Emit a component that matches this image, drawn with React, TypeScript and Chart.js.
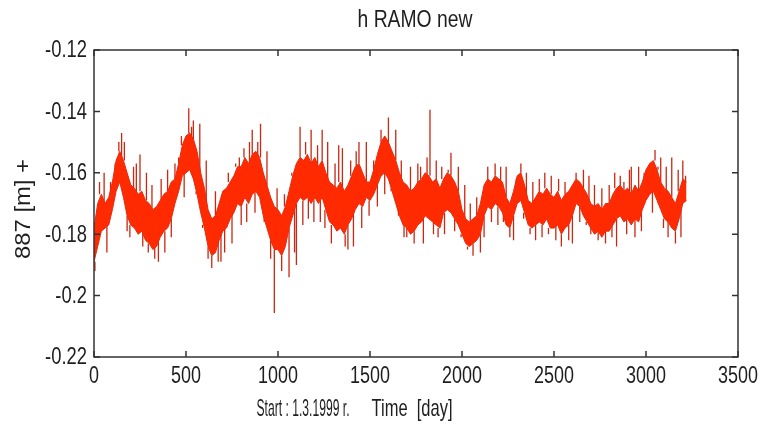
import { useEffect, useRef } from "react";
import { Chart, registerables } from "chart.js";

Chart.register(...registerables);

// Height series h for station RAMO, days since 1.3.1999
const X_TICKS = [0, 500, 1000, 1500, 2000, 2500, 3000, 3500];
const Y_TICKS = [-0.22, -0.2, -0.18, -0.16, -0.14, -0.12];
const STEP_DAYS = 20;

// upper edge of the dense daily scatter, one value every STEP_DAYS
const BAND_HI = [
  -0.178, -0.170, -0.167, -0.170, -0.168,
  -0.163, -0.156, -0.153, -0.156, -0.160,
  -0.164, -0.165, -0.167, -0.166, -0.169,
  -0.170, -0.172, -0.171, -0.169, -0.167,
  -0.166, -0.163, -0.162, -0.157, -0.151,
  -0.148, -0.147, -0.149, -0.153, -0.160,
  -0.165, -0.172, -0.175, -0.174, -0.170,
  -0.166, -0.165, -0.163, -0.161, -0.158,
  -0.158, -0.155, -0.157, -0.154, -0.153,
  -0.155, -0.160, -0.164, -0.168, -0.171,
  -0.172, -0.174, -0.171, -0.166, -0.161,
  -0.157, -0.155, -0.156, -0.154, -0.157,
  -0.155, -0.158, -0.156, -0.160, -0.163,
  -0.164, -0.165, -0.163, -0.166, -0.164,
  -0.161, -0.158, -0.157, -0.160, -0.163,
  -0.163, -0.159, -0.154, -0.150, -0.148,
  -0.150, -0.153, -0.156, -0.160, -0.163,
  -0.164, -0.166, -0.165, -0.163, -0.162,
  -0.160, -0.161, -0.163, -0.162, -0.165,
  -0.162, -0.160, -0.161, -0.163, -0.166,
  -0.172, -0.175, -0.176, -0.175, -0.174,
  -0.170, -0.164, -0.162, -0.163, -0.161,
  -0.162, -0.163, -0.168, -0.170, -0.166,
  -0.161, -0.160, -0.164, -0.169, -0.170,
  -0.168, -0.166, -0.167, -0.165, -0.167,
  -0.168, -0.166, -0.169, -0.167, -0.166,
  -0.164, -0.162, -0.163, -0.165, -0.167,
  -0.170, -0.171, -0.170, -0.172, -0.170,
  -0.170, -0.167, -0.165, -0.164, -0.166,
  -0.165, -0.167, -0.164, -0.166, -0.163,
  -0.159, -0.157, -0.156, -0.159, -0.163,
  -0.165, -0.166, -0.168, -0.170, -0.166,
  -0.162, -0.163,
];

// lower edge of the dense daily scatter, same sampling
const BAND_LO = [
  -0.189, -0.184, -0.179, -0.178, -0.177,
  -0.172, -0.166, -0.163, -0.168, -0.174,
  -0.177, -0.178, -0.180, -0.179, -0.182,
  -0.183, -0.185, -0.184, -0.181, -0.179,
  -0.178, -0.175, -0.170, -0.166, -0.161,
  -0.160, -0.159, -0.162, -0.167, -0.173,
  -0.178, -0.184, -0.187, -0.186, -0.182,
  -0.179, -0.178, -0.175, -0.173, -0.170,
  -0.171, -0.168, -0.170, -0.167, -0.166,
  -0.168, -0.174, -0.178, -0.182, -0.185,
  -0.185, -0.187, -0.184, -0.178, -0.174,
  -0.170, -0.168, -0.169, -0.168, -0.170,
  -0.168, -0.170, -0.168, -0.172, -0.176,
  -0.177, -0.179, -0.178, -0.180, -0.177,
  -0.175, -0.172, -0.170, -0.171, -0.168,
  -0.169, -0.167, -0.164, -0.161, -0.160,
  -0.162, -0.166, -0.170, -0.174, -0.177,
  -0.178, -0.180, -0.179, -0.177, -0.176,
  -0.174, -0.175, -0.176, -0.177, -0.178,
  -0.173, -0.172, -0.173, -0.175, -0.177,
  -0.180, -0.183, -0.184, -0.183, -0.182,
  -0.180, -0.174, -0.171, -0.172, -0.170,
  -0.171, -0.173, -0.177, -0.178, -0.174,
  -0.170, -0.169, -0.173, -0.177, -0.178,
  -0.177, -0.176, -0.177, -0.175, -0.178,
  -0.178, -0.177, -0.180, -0.178, -0.177,
  -0.174, -0.170, -0.171, -0.174, -0.176,
  -0.178, -0.180, -0.179, -0.181, -0.179,
  -0.179, -0.177, -0.175, -0.174, -0.176,
  -0.175, -0.177, -0.175, -0.176, -0.172,
  -0.169, -0.167, -0.166, -0.169, -0.172,
  -0.175, -0.176, -0.178, -0.179, -0.175,
  -0.170, -0.169,
];

// single-day outliers sticking out of the scatter: [day, value]
const SPIKES: [number, number][] = [
  [5, -0.192], [30, -0.163], [55, -0.160], [70, -0.186], [90, -0.163],
  [115, -0.157], [135, -0.150], [150, -0.147], [165, -0.150], [180, -0.179], [195, -0.181],
  [215, -0.158], [230, -0.157], [250, -0.154], [265, -0.184], [285, -0.160], [295, -0.186],
  [315, -0.164], [330, -0.188], [350, -0.189], [365, -0.162], [385, -0.186], [400, -0.159],
  [420, -0.181], [440, -0.157], [460, -0.155], [475, -0.148], [490, -0.168], [500, -0.150],
  [515, -0.139], [530, -0.145], [540, -0.143], [555, -0.166], [575, -0.144], [590, -0.177],
  [610, -0.156], [620, -0.188], [640, -0.191], [660, -0.166], [675, -0.189], [690, -0.189],
  [710, -0.186], [730, -0.160], [750, -0.183], [770, -0.157], [790, -0.155], [800, -0.177],
  [815, -0.152], [830, -0.176], [845, -0.150], [860, -0.146], [875, -0.173], [890, -0.150],
  [905, -0.144], [925, -0.176], [940, -0.153], [960, -0.188], [980, -0.2057], [995, -0.165],
  [1020, -0.192], [1035, -0.167], [1060, -0.194], [1075, -0.160], [1090, -0.186], [1100, -0.190],
  [1120, -0.145], [1135, -0.177], [1150, -0.150], [1165, -0.175], [1180, -0.146], [1195, -0.176],
  [1215, -0.151], [1230, -0.176], [1240, -0.146], [1255, -0.178], [1270, -0.150], [1290, -0.183],
  [1310, -0.157], [1330, -0.151], [1350, -0.152], [1365, -0.184], [1380, -0.185], [1395, -0.156],
  [1410, -0.184], [1425, -0.153], [1440, -0.150], [1455, -0.178], [1480, -0.150], [1495, -0.174],
  [1520, -0.156], [1540, -0.171], [1560, -0.146], [1580, -0.167], [1600, -0.142], [1615, -0.165],
  [1640, -0.146], [1655, -0.172], [1670, -0.156], [1685, -0.181], [1700, -0.181],
  [1720, -0.158], [1740, -0.183], [1760, -0.157], [1775, -0.158], [1790, -0.183],
  [1810, -0.155], [1826, -0.1395], [1845, -0.180], [1860, -0.156], [1870, -0.181], [1890, -0.158],
  [1905, -0.180], [1925, -0.159], [1940, -0.1535], [1960, -0.179], [1980, -0.158], [1995, -0.181],
  [2015, -0.164], [2030, -0.185], [2045, -0.170], [2060, -0.187], [2080, -0.168], [2100, -0.186],
  [2120, -0.181], [2140, -0.158], [2160, -0.176], [2180, -0.157], [2195, -0.177],
  [2210, -0.158], [2225, -0.176], [2240, -0.158], [2260, -0.181], [2280, -0.182], [2295, -0.162],
  [2320, -0.157], [2335, -0.175], [2350, -0.160], [2370, -0.180], [2385, -0.163], [2400, -0.182],
  [2420, -0.162], [2435, -0.181], [2450, -0.160], [2470, -0.180], [2485, -0.161],
  [2510, -0.182], [2525, -0.162], [2540, -0.184], [2560, -0.163], [2580, -0.182], [2600, -0.183],
  [2620, -0.160], [2640, -0.176], [2660, -0.159], [2675, -0.177], [2690, -0.161], [2700, -0.180],
  [2720, -0.164], [2740, -0.182], [2760, -0.165], [2780, -0.183], [2800, -0.164],
  [2815, -0.181], [2830, -0.160], [2840, -0.184], [2860, -0.161], [2880, -0.163], [2895, -0.180],
  [2910, -0.159], [2920, -0.158], [2940, -0.181], [2960, -0.158], [2975, -0.179], [2990, -0.160],
  [3020, -0.157], [3035, -0.173], [3049, -0.1526], [3065, -0.158], [3080, -0.155], [3095, -0.178],
  [3110, -0.158], [3120, -0.181], [3140, -0.155], [3160, -0.183], [3175, -0.159], [3190, -0.181],
  [3200, -0.156], [3215, -0.161],
];

const TITLE = "h RAMO new";
const Y_LABEL = "887 [m] +";
const X_LABEL_LEFT = "Start : 1.3.1999 r.";
const X_LABEL_RIGHT = "Time  [day]";

const FONT = '"Liberation Sans", Arial, Helvetica, sans-serif';
const INK = "#1e1e1e";
const FRAME = "#333333";
const RED = "#ff2a00";
const EDGE = "#e62a0e";
const SPIKE = "#c92812";

const hiPoints = BAND_HI.map((v, i) => ({ x: i * STEP_DAYS, y: v }));
const loPoints = BAND_LO.map((v, i) => ({ x: i * STEP_DAYS, y: v }));

function spikeSegments() {
  const pts: { x: number; y: number | null }[] = [];
  for (const [day, tip] of SPIKES) {
    const j = Math.min(BAND_HI.length - 1, Math.round(day / STEP_DAYS));
    const base = tip > BAND_HI[j] ? BAND_HI[j] : BAND_LO[j];
    pts.push({ x: day, y: base }, { x: day, y: tip }, { x: day, y: null });
  }
  return pts;
}

// condensed text: drawn at a font size, then squeezed horizontally
function drawText(
  ctx: CanvasRenderingContext2D,
  text: string,
  x: number,
  y: number,
  size: number,
  opts: { width?: number; squeeze?: number; align?: "left" | "center" | "right"; angle?: number } = {}
) {
  ctx.save();
  ctx.font = `${size}px ${FONT}`;
  ctx.fillStyle = INK;
  ctx.textAlign = opts.align ?? "center";
  ctx.textBaseline = "middle";
  const w = ctx.measureText(text).width;
  const sx = opts.width ? opts.width / w : opts.squeeze ?? 1;
  ctx.translate(x, y);
  ctx.rotate(opts.angle ?? 0);
  ctx.scale(sx, 1);
  ctx.fillText(text, 0, 0);
  ctx.restore();
}

const framePlugin = {
  id: "matlabFrame",
  afterDatasetsDraw(chart: any) {
    const { ctx, chartArea: a, scales } = chart;
    const len = 6;
    ctx.save();
    ctx.strokeStyle = FRAME;
    ctx.lineWidth = 1.5;
    ctx.strokeRect(a.left, a.top, a.right - a.left, a.bottom - a.top);
    ctx.beginPath();
    for (const v of X_TICKS) {
      const x = scales.x.getPixelForValue(v);
      ctx.moveTo(x, a.bottom);
      ctx.lineTo(x, a.bottom - len);
      ctx.moveTo(x, a.top);
      ctx.lineTo(x, a.top + len);
    }
    for (const v of Y_TICKS) {
      const y = scales.y.getPixelForValue(v);
      ctx.moveTo(a.left, y);
      ctx.lineTo(a.left + len, y);
      ctx.moveTo(a.right, y);
      ctx.lineTo(a.right - len, y);
    }
    ctx.stroke();
    ctx.restore();
  },
  afterDraw(chart: any) {
    const { ctx, chartArea: a, scales } = chart;
    for (const v of X_TICKS) {
      drawText(ctx, String(v), scales.x.getPixelForValue(v), a.bottom + 20, 23, { squeeze: 0.78 });
    }
    for (const v of Y_TICKS) {
      drawText(ctx, String(v), a.left - 7, scales.y.getPixelForValue(v) + 1, 23, { squeeze: 0.8, align: "right" });
    }
    drawText(ctx, TITLE, 415, 21, 23, { width: 115 });
    drawText(ctx, Y_LABEL, 24, 209, 22, { width: 100, angle: -Math.PI / 2 });
    drawText(ctx, X_LABEL_LEFT, 303, 409, 24, { width: 93 });
    drawText(ctx, X_LABEL_RIGHT, 412, 409, 24, { width: 81 });
  },
};

export default function App() {
  const ref = useRef<HTMLCanvasElement | null>(null);

  useEffect(() => {
    if (!ref.current) return;
    const chart = new Chart(ref.current, {
      type: "line",
      data: {
        datasets: [
          {
            data: hiPoints,
            borderColor: EDGE,
            borderWidth: 1,
            pointRadius: 0,
            fill: false,
            order: 1,
          },
          {
            data: loPoints,
            borderColor: EDGE,
            borderWidth: 1,
            pointRadius: 0,
            backgroundColor: RED,
            fill: "-1",
            order: 1,
          },
          {
            data: spikeSegments(),
            borderColor: SPIKE,
            borderWidth: 1.3,
            pointRadius: 0,
            spanGaps: false,
            fill: false,
            order: 2,
          },
        ],
      },
      options: {
        animation: false,
        responsive: false,
        devicePixelRatio: 1,
        parsing: false,
        normalized: true,
        layout: { padding: { left: 0, top: 50, right: 22, bottom: 0 } },
        plugins: {
          legend: { display: false },
          tooltip: { enabled: false },
          title: { display: false },
        },
        scales: {
          x: {
            type: "linear",
            min: 0,
            max: 3500,
            grid: { display: false, drawTicks: false },
            border: { display: false },
            afterBuildTicks: (s: any) => {
              s.ticks = X_TICKS.map((v) => ({ value: v }));
            },
            afterFit: (s: any) => {
              s.height = 76;
            },
            ticks: { display: false },
          },
          y: {
            type: "linear",
            min: -0.22,
            max: -0.12,
            grid: { display: false, drawTicks: false },
            border: { display: false },
            afterBuildTicks: (s: any) => {
              s.ticks = Y_TICKS.map((v) => ({ value: v }));
            },
            afterFit: (s: any) => {
              s.width = 94;
            },
            ticks: { display: false },
          },
        },
      },
      plugins: [framePlugin],
    });
    return () => chart.destroy();
  }, []);

  return (
    <div style={{ position: "absolute", left: 0, top: 0, width: 760, height: 433, background: "#fff" }}>
      <canvas ref={ref} width={760} height={433} />
    </div>
  );
}
